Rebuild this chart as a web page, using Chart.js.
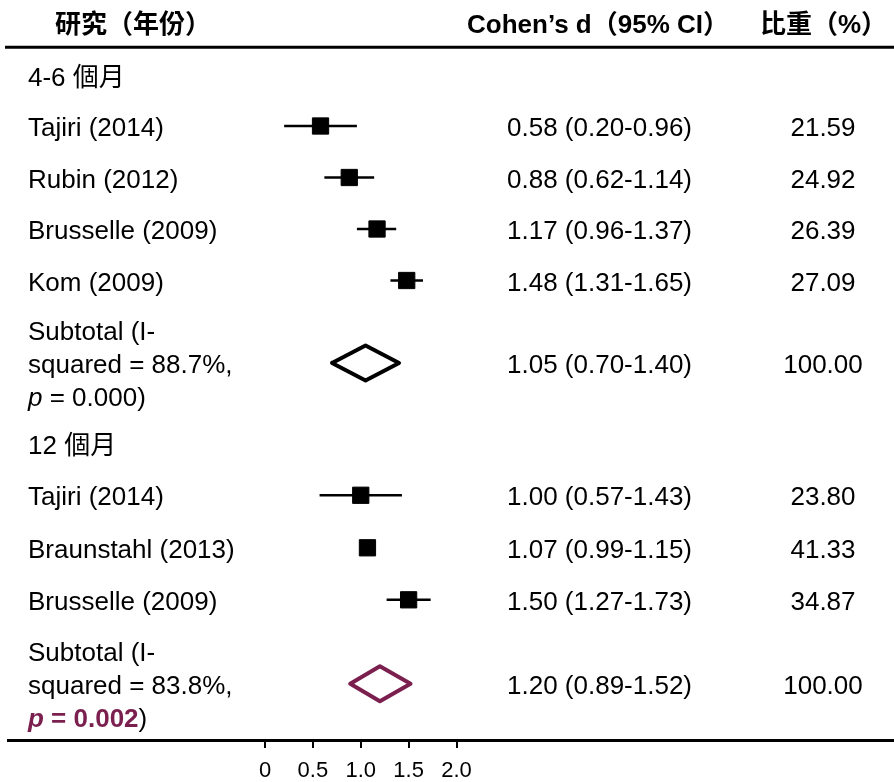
<!DOCTYPE html>
<html>
<head>
<meta charset="utf-8">
<script src="https://cdn.jsdelivr.net/npm/chart.js@4.4.1/dist/chart.umd.min.js"></script>
<style>
    html, body { margin: 0; padding: 0; background: #fff; }
</style>
</head>
<body>
<canvas id="forest" width="894" height="782"></canvas>
<script>

// grupo 4-6 個月
var estudios1 = ['Tajiri (2014)', 'Rubin (2012)', 'Brusselle (2009)', 'Kom (2009)'];
var d1 = [0.58, 0.88, 1.17, 1.48];
var inf1 = [0.20, 0.62, 0.96, 1.31];
var sup1 = [0.96, 1.14, 1.37, 1.65];
var peso1 = [21.59, 24.92, 26.39, 27.09];
var subtotal1 = [1.05, 0.70, 1.40];   // d, inferior, superior
var isq1 = '88.7';
var p1 = '0.000';

// grupo 12 個月
var estudios2 = ['Tajiri (2014)', 'Braunstahl (2013)', 'Brusselle (2009)'];
var d2 = [1.00, 1.07, 1.50];
var inf2 = [0.57, 0.99, 1.27];
var sup2 = [1.43, 1.15, 1.73];
var peso2 = [23.80, 41.33, 34.87];
var subtotal2 = [1.20, 0.89, 1.52];
var isq2 = '83.8';
var p2 = '0.002';

var grupos = ['4-6 個月', '12 個月'];

// filas (en unidades de renglon)
var filaGrupo = [1.03, 8.17];
var filas1 = [2, 3, 4, 5];
var filaSub1 = 6.6;
var filas2 = [9.17, 10.19, 11.2];
var filaSub2 = 12.83;

var ticksX = [0, 0.5, 1, 1.5, 2];
var ticksTexto = ['0', '0.5', '1.0', '1.5', '2.0'];

var granate = '#7b1f4e';
var fuente = '"Liberation Sans", Arial, "Noto Sans CJK TC"';

var datasets = [];

function agregarIntervalos(inf, sup, filas) {
    for (var i = 0; i < inf.length; i++) {
        datasets.push({
            data: [{x: inf[i], y: filas[i]}, {x: sup[i], y: filas[i]}],
            showLine: true,
            borderColor: '#000',
            borderWidth: 2.5,
            pointRadius: 0
        });
    }
}

function rombo(sub, fila, color) {
    return {
        data: [
            {x: sub[1], y: fila},
            {x: sub[0], y: fila - 0.34},
            {x: sub[2], y: fila},
            {x: sub[0], y: fila + 0.34},
            {x: sub[1], y: fila}
        ],
        showLine: true,
        borderColor: color,
        borderWidth: 4,
        borderJoinStyle: 'round',
        borderCapStyle: 'round',
        pointRadius: 0,
        fill: false
    };
}

agregarIntervalos(inf1, sup1, filas1);
agregarIntervalos(inf2, sup2, filas2);

var cuadros = [];
for (var i = 0; i < d1.length; i++) cuadros.push({x: d1[i], y: filas1[i]});
for (var j = 0; j < d2.length; j++) cuadros.push({x: d2[j], y: filas2[j]});

datasets.push({
    data: cuadros,
    pointStyle: 'rect',
    pointRadius: 11.5,
    backgroundColor: '#000',
    borderColor: '#000',
    borderWidth: 1
});

datasets.push(rombo(subtotal1, filaSub1, '#000'));
datasets.push(rombo(subtotal2, filaSub2, granate));

function ic(d, a, b) {
    return d.toFixed(2) + ' (' + a.toFixed(2) + '-' + b.toFixed(2) + ')';
}

// escribe trozos seguidos con distinta fuente/color
function trozos(ctx, partes, x, y) {
    for (var k = 0; k < partes.length; k++) {
        ctx.font = partes[k][1];
        ctx.fillStyle = partes[k][2];
        ctx.fillText(partes[k][0], x, y);
        x += ctx.measureText(partes[k][0]).width;
    }
}

var textos = {
    id: 'textos',
    afterDraw: function(chart) {
        var ctx = chart.ctx;
        var ey = chart.scales.y;
        var normal = '26px ' + fuente;
        var cursiva = 'italic 26px ' + fuente;
        var negrita = 'bold 26px ' + fuente;
        var negCursiva = 'italic bold 26px ' + fuente;
        var dy = 3;   // el texto 'middle' queda un poco alto

        function py(v) { return ey.getPixelForValue(v) + dy; }

        ctx.save();
        ctx.textBaseline = 'middle';
        ctx.fillStyle = '#000';

        // encabezado
        var yh = py(0);
        ctx.font = 'bold 26px ' + fuente;
        ctx.textAlign = 'left';
        ctx.fillText('研究（年份）', 55, yh);
        ctx.fillText('Cohen’s d（95% CI）', 467, yh);
        ctx.fillText('比重（%）', 760, yh);

        ctx.strokeStyle = '#000';
        ctx.lineWidth = 3;
        ctx.beginPath();
        ctx.moveTo(5, ey.getPixelForValue(0.47));
        ctx.lineTo(894, ey.getPixelForValue(0.47));
        ctx.stroke();

        ctx.font = normal;
        for (var g = 0; g < grupos.length; g++) {
            ctx.fillText(grupos[g], 28, py(filaGrupo[g]));
        }

        function filasEstudios(nombres, d, a, b, w, filas) {
            for (var i = 0; i < nombres.length; i++) {
                var yy = py(filas[i]);
                ctx.font = normal;
                ctx.fillStyle = '#000';
                ctx.textAlign = 'left';
                ctx.fillText(nombres[i], 28, yy);
                ctx.fillText(ic(d[i], a[i], b[i]), 507, yy);
                ctx.textAlign = 'center';
                ctx.fillText(w[i].toFixed(2), 823, yy);
            }
        }
        filasEstudios(estudios1, d1, inf1, sup1, peso1, filas1);
        filasEstudios(estudios2, d2, inf2, sup2, peso2, filas2);

        function subtotal(sub, fila, isq, ultima) {
            var yy = py(fila);
            var paso = ey.getPixelForValue(fila + 0.64) - ey.getPixelForValue(fila);
            ctx.textAlign = 'left';
            ctx.font = normal;
            ctx.fillStyle = '#000';
            ctx.fillText('Subtotal (I-', 28, yy - paso);
            ctx.fillText('squared = ' + isq + '%,', 28, yy);
            trozos(ctx, ultima, 28, yy + paso);
            ctx.font = normal;
            ctx.fillStyle = '#000';
            ctx.fillText(ic(sub[0], sub[1], sub[2]), 507, yy);
            ctx.textAlign = 'center';
            ctx.fillText('100.00', 823, yy);
        }
        subtotal(subtotal1, filaSub1, isq1, [
            ['p', cursiva, '#000'],
            [' = ' + p1 + ')', normal, '#000']
        ]);
        subtotal(subtotal2, filaSub2, isq2, [
            ['p', negCursiva, granate],
            [' = ' + p2, negrita, granate],
            [')', normal, '#000']
        ]);

        ctx.restore();
    }
};

var ctx = document.getElementById('forest');

new Chart(ctx, {
    type: 'scatter',
    data: {
        datasets: datasets
    },
    options: {
        responsive: false,
        animation: false,
        events: [],
        layout: {
            autoPadding: false,
            padding: {left: 8, right: 0, top: 0, bottom: 0}
        },
        plugins: {
            legend: {display: false},
            tooltip: {enabled: false}
        },
        scales: {
            x: {
                type: 'linear',
                min: -2.684,
                max: 6.569,
                afterBuildTicks: function(eje) {
                    eje.ticks = ticksX.map(function(v) { return {value: v}; });
                },
                afterFit: function(eje) {
                    eje.height = 42;
                },
                grid: {
                    display: true,
                    drawOnChartArea: false,
                    drawTicks: true,
                    tickLength: 8,
                    color: '#000',
                    lineWidth: 2
                },
                border: {display: true, color: '#000', width: 3},
                ticks: {
                    color: '#000',
                    padding: 10,
                    maxRotation: 0,
                    autoSkip: false,
                    font: {family: fuente, size: 22},
                    callback: function(v, i) { return ticksTexto[i]; }
                }
            },
            y: {
                type: 'linear',
                display: false,
                reverse: true,
                min: -0.4466,
                max: 13.922
            }
        }
    },
    plugins: [textos]
});

</script>
</body>
</html>
